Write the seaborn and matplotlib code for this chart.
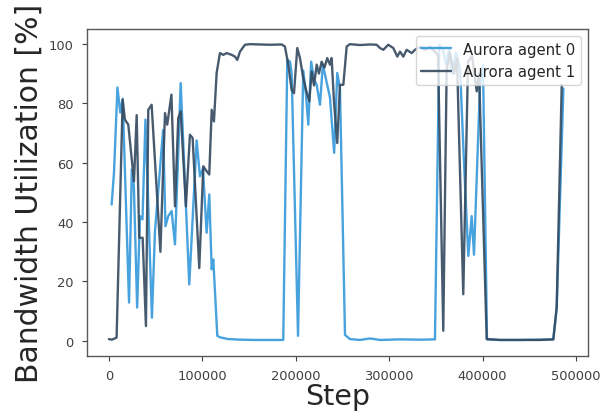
import matplotlib
matplotlib.use("Agg")
import matplotlib.pyplot as plt
import seaborn as sns
import pandas as pd

# Agent 0 (step, bandwidth utilization %)
steps_a0 = [2900, 5400, 9100, 12100, 14700, 21500, 24500, 26700, 30200, 33200,
            35900, 39100, 46000, 49300, 58000, 60500, 63500, 67100, 70700, 76800,
            86000, 93900, 97400, 100600, 104600, 107400, 110000, 111700, 116000, 118800,
            127700, 140300, 156300, 172400, 186600, 190900, 193800, 195600, 202400, 208000,
            210900, 213400, 216500, 219500, 222400, 225900, 229000, 233100, 236600, 241100,
            244400, 247300, 252700, 258000, 268700, 279500, 290200, 311600, 333000, 349000,
            353600, 357600, 360800, 364000, 367300, 371500, 375800, 380100, 384700, 388300,
            390800, 397200, 400400, 404700, 418600, 440000, 475700, 479300, 486500]
util_a0 = [45.9, 56.6, 85.3, 76.9, 81.5, 12.9, 57.7, 52.0, 11.2, 42.0,
           40.9, 74.5, 7.8, 37.0, 71.0, 38.6, 42.0, 43.7, 32.5, 86.8,
           19.0, 67.5, 55.4, 58.0, 36.4, 49.3, 24.1, 27.4, 1.7, 1.2,
           0.6, 0.4, 0.3, 0.3, 0.3, 94.6, 94.0, 90.0, 1.7, 91.0,
           83.0, 72.8, 94.0, 88.0, 86.2, 79.5, 93.0, 87.0, 82.0, 63.3,
           90.2, 85.0, 2.0, 0.6, 0.3, 0.8, 0.3, 0.5, 0.4, 0.5,
           99.7, 98.0, 93.0, 98.0, 90.0, 97.0, 92.0, 60.0, 28.6, 42.0,
           29.0, 86.0, 93.0, 0.5, 0.3, 0.3, 0.5, 11.0, 85.0]

# Agent 1
steps_a1 = [0, 3200, 8200, 14700, 17100, 20700, 26800, 29700, 32400, 36100,
            39600, 42100, 45700, 55100, 60000, 62400, 66900, 70700, 74200, 76800,
            82400, 86700, 89600, 96700, 101000, 104600, 107400, 110000, 112400, 115300,
            118800, 122400, 126000, 131400, 134900, 137400, 140300, 145600, 151000, 161700,
            172400, 184900, 188400, 192000, 195600, 198100, 201600, 204500, 208000, 211400,
            214500, 217000, 219500, 222400, 224800, 227700, 230700, 233700, 236600, 238400,
            240900, 244400, 247300, 250900, 254500, 258000, 268700, 279500, 286600, 290200,
            293700, 299000, 304400, 308700, 311600, 315100, 318700, 324100, 327600, 333000,
            338300, 343700, 350100, 352300, 357900, 361500, 365100, 369400, 372600, 379300,
            384400, 388700, 393700, 396200, 404400, 418600, 440000, 461500, 475700, 479300,
            484700]
util_a1 = [0.6, 0.4, 1.1, 81.2, 74.5, 72.8, 53.7, 76.0, 34.7, 34.7,
           5.0, 77.8, 79.5, 30.0, 76.7, 72.8, 82.9, 45.3, 75.0, 77.3,
           45.3, 69.4, 68.3, 24.5, 58.8, 57.1, 56.0, 77.8, 73.9, 90.2,
           96.9, 96.3, 96.9, 96.3, 95.7, 94.6, 97.4, 99.7, 99.9, 99.8,
           99.7, 99.8, 99.1, 93.0, 84.5, 83.4, 98.6, 95.2, 88.5, 84.0,
           80.6, 90.7, 86.0, 93.0, 90.0, 94.0, 92.0, 95.2, 93.0, 95.2,
           80.6, 66.6, 86.2, 86.2, 99.1, 99.9, 99.6, 99.8, 99.7, 98.6,
           98.0, 99.7, 98.6, 95.7, 97.4, 95.7, 98.0, 96.9, 98.0, 99.0,
           98.0, 99.0, 97.0, 96.0, 3.4, 91.3, 97.0, 90.0, 95.0, 15.7,
           94.0, 96.0, 84.0, 90.0, 0.6, 0.3, 0.3, 0.3, 0.5, 11.3,
           86.2]

labels = ["Aurora agent 0", "Aurora agent 1"]
colors = ["#3498db", "#34495e"]

df = pd.concat([
    pd.DataFrame({"Step": steps_a0, "Util": util_a0, "Agent": labels[0]}),
    pd.DataFrame({"Step": steps_a1, "Util": util_a1, "Agent": labels[1]}),
], ignore_index=True)

sns.set_style("ticks")
plt.rcParams["font.family"] = ["DejaVu Sans"]

fig = plt.figure(figsize=(6.02, 4.14), dpi=100)
ax = fig.add_axes([0.1445, 0.1384, 0.8322, 0.7891])

sns.lineplot(data=df, x="Step", y="Util", hue="Agent", palette=colors,
             linewidth=1.7, alpha=0.9, ax=ax, estimator=None, sort=False)

ax.set_xlabel("Step", fontsize=20.5, labelpad=0.3)
ax.set_ylabel("Bandwidth Utilization [%]", fontsize=21.5, labelpad=3.6)
ax.tick_params(labelsize=9.4, length=3.6, pad=6.0, width=0.8, colors="0.25")
for s in ax.spines.values():
    s.set_color("0.35")
    s.set_linewidth(1.0)
ax.set_xticks([0, 100000, 200000, 300000, 400000, 500000])
ax.set_yticks([0, 20, 40, 60, 80, 100])
ax.set_ylim(-5, 105)
ax.set_xlim(-23500, 512800)
ax.legend(loc="upper right", fontsize=10.7, frameon=True, borderaxespad=0.45)

fig.savefig("out.png", dpi=100)
